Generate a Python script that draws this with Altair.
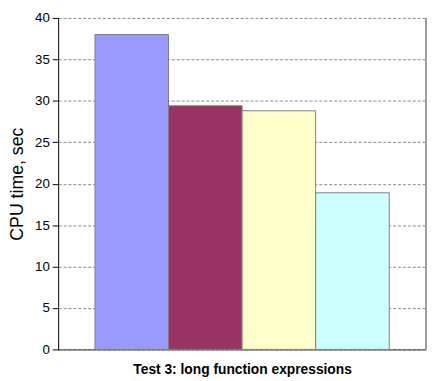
import altair as alt
import pandas as pd

categories = ["A", "B", "C", "D"]
values = [38.0, 29.4, 28.8, 18.9]
colors = ["#9999ff", "#993366", "#ffffcc", "#ccffff"]
y_ticks = [0, 5, 10, 15, 20, 25, 30, 35, 40]

df = pd.DataFrame({"cat": categories, "val": values})

W, H = 374, 337

bars = alt.Chart(df).mark_bar(stroke="#808080", strokeWidth=1).encode(
    x=alt.X("cat:N", sort=categories,
            scale=alt.Scale(paddingInner=0, paddingOuter=0.5),
            axis=alt.Axis(labels=False, ticks=False, title="Test 3: long function expressions",
                          titleFont="Liberation Sans", titleFontSize=14, titleFontWeight="bold",
                          titleColor="#000000", titlePadding=13,
                          domainColor="#333333", domainWidth=1)),
    y=alt.Y("val:Q", scale=alt.Scale(domain=[0, 40], nice=False),
            axis=alt.Axis(values=y_ticks, title="CPU time, sec",
                          titleFont="Liberation Sans", titleFontSize=18, titleFontWeight="normal",
                          titleColor="#000000", titlePadding=8,
                          labelFont="Liberation Sans", labelFontSize=13.5, labelColor="#000000",
                          labelPadding=3, tickSize=6, tickColor="#000000",
                          domainColor="#000000", domainWidth=1,
                          grid=True, gridColor="#888888", gridDash=[3, 2], gridWidth=1)),
    color=alt.Color("cat:N", scale=alt.Scale(domain=categories, range=colors), legend=None),
)

border = alt.Chart(df).mark_rule(color="#a0a0a0", strokeWidth=1.5).encode(
    x=alt.value(W), y=alt.value(0), y2=alt.value(H)
)

chart = alt.layer(bars, border).properties(
    width=W, height=H,
    autosize=alt.AutoSizeParams(type="none"),
    padding={"left": 51, "top": 7, "right": 2, "bottom": 29},
).configure_view(stroke=None).configure_axis(labelFont="Liberation Sans", titleFont="Liberation Sans")

chart.save("out.html", embed_options={"renderer": "svg", "actions": False})
